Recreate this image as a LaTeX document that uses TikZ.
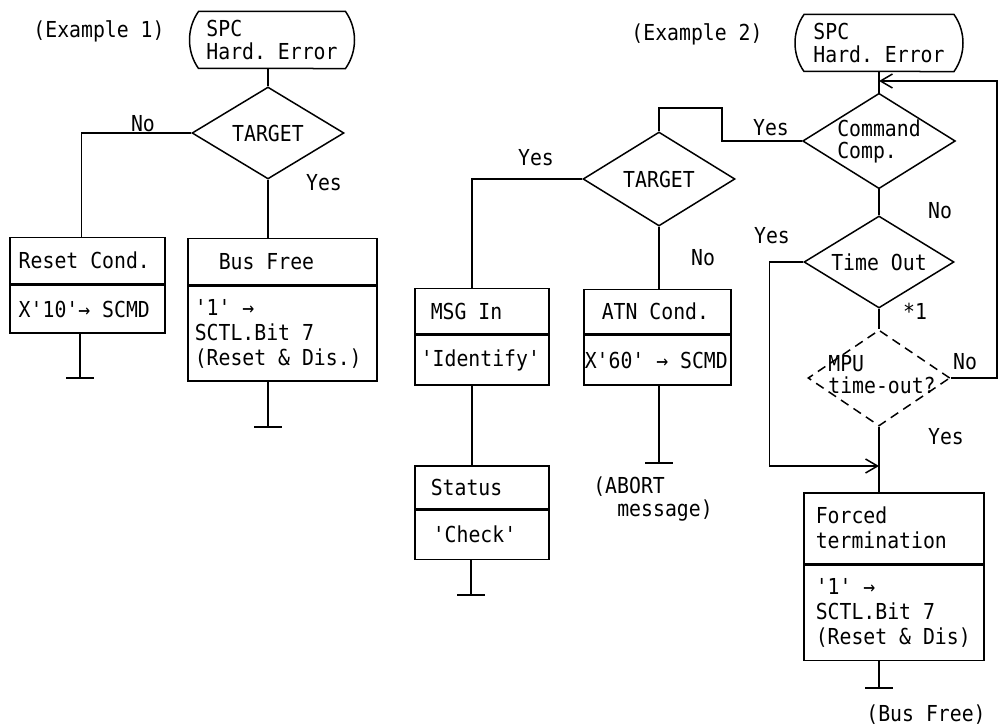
\documentclass[tikz,border=0pt]{standalone}
\usepackage{fontspec}
\setmonofont[FakeStretch=0.9]{DejaVu Sans Mono}
\usetikzlibrary{calc,shapes.geometric,shapes.misc,arrows.meta}
\def\groundbar(#1)(#2){\draw (#1) -- (#2); \draw ($(#2)+(-14,0)$) -- ($(#2)+(14,0)$);}

\tikzset{
	term/.style={draw, rounded rectangle, rounded rectangle arc length=70, minimum height=57pt, inner sep=0pt, align=left},
	decide/.style={draw, diamond, aspect=1.6, inner sep=0pt, align=left},
	proc/.style={draw, anchor=north west, align=left, inner ysep=0pt},
	joinarrow/.style={-{Straight Barb[length=12pt,width=14pt]}}
}

\begin{document}
\begin{tikzpicture}[x=1pt, y=-1pt, line width=1.5pt, font=\ttfamily\fontsize{22}{25}\selectfont,
		execute at begin node={\spaceskip=0pt\xspaceskip=0pt}]
	%%%%% START %%%%%
	\useasboundingbox (0,0) rectangle (1002,727);

	% Example 1
	\node (ex1) at (99,31) {(Example 1)};
	\node[term, minimum width=165pt] (spc1) at (272,40) {SPC\\[-2pt]Hard. Error};
	\node[decide, minimum width=152pt, minimum height=92pt] (tgt1) at (268,133) {TARGET};
	\node (no1) at (143,124) {No};
	\node (yes1) at (324,183) {Yes};

	\node[proc, text width=137pt, inner xsep=9pt, minimum height=46pt] (rst) at (9,237) {Reset Cond.};
	\node[proc, text width=137pt, inner xsep=9pt, minimum height=48pt] (rstb) at (rst.south west) {X'10'→ SCMD};

	\node[proc, text width=127pt, inner xsep=31pt, minimum height=46pt] (bus) at (187,238) {Bus Free};
	\node[proc, text width=175pt, inner xsep=7pt, minimum height=95pt] (busb) at (bus.south west) {'1' →\\SCTL.Bit 7\\(Reset \& Dis.)};

	\draw (tgt1.north |- spc1.south) -- (tgt1.north);
	\draw (tgt1.west) -| ([xshift=-6pt]rst.north);
	\draw (tgt1.south) -- (tgt1.south |- bus.north);

	\coordinate (gnd1) at (80,378);
	\coordinate (gnd2) at (268,427);
	\groundbar(rstb.south -| gnd1)(gnd1)
	\groundbar(busb.south -| gnd2)(gnd2)

	% Example 2
	\node (ex2) at (697,34) {(Example 2)};
	\node[term, minimum width=168pt] (spc2) at (879,43) {SPC\\[-2pt]Hard. Error};
	\node[decide, minimum width=150pt, minimum height=94pt] (cmd) at (879,141) {Command\\[-3pt]Comp.};
	\node[decide, minimum width=152pt, minimum height=94pt] (tgt2) at (659,179) {TARGET};
	\node[decide, minimum width=150pt, minimum height=92pt] (tmo) at (879,262) {Time Out};
	\node[decide, dash pattern=on 9pt off 6pt, minimum width=142pt, minimum height=96pt] (mpu) at (879,378) {};
	\node[align=left] (mputxt) at (882,375) {MPU\\[-3pt]time-out?};

	\node (yes2) at (771,128) {Yes};
	\node (yes3) at (536,158) {Yes};
	\node (no2) at (703,258) {No};
	\node (no3) at (940,211) {No};
	\node (yes4) at (772,236) {Yes};
	\node (star1) at (915,311) {*1};
	\node (no4) at (965,362) {No};
	\node (yes5) at (946,437) {Yes};

	\node[proc, text width=102pt, inner xsep=16pt, minimum height=45pt] (msg) at (414,288) {MSG In};
	\node[proc, text width=122pt, inner xsep=6pt, minimum height=50pt] (msgb) at (msg.south west) {'Identify'};

	\node[proc, text width=102pt, inner xsep=16pt, minimum height=43pt] (sts) at (414,465) {Status};
	\node[proc, text width=98pt, inner xsep=18pt, minimum height=49pt] (stsb) at (sts.south west) {'Check'};

	\node[proc, text width=111pt, inner xsep=18pt, minimum height=44pt] (atn) at (583,289) {ATN Cond.};
	\node[proc, text width=147pt, inner xsep=0pt, minimum height=50pt] (atnb) at (atn.south west) {\hspace*{1pt}X'60' → SCMD};
	\node[align=left] (abort) at (653,499) {(ABORT\\[-2pt]\hspace*{24pt}message)};

	\node[proc, text width=156pt, inner xsep=12pt, minimum height=71pt] (frc) at (803,492) {Forced\\termination};
	\node[proc, text width=156pt, inner xsep=12pt, minimum height=95pt] (frcb) at (frc.south west) {'1' →\\SCTL.Bit 7\\(Reset \& Dis)};
	\node (busfree) at (926,715) {(Bus Free)};

	\coordinate (back) at (879,81);
	\coordinate (merge) at (879,466);
	\draw (spc2.south) -- (cmd.north);
	\draw (cmd.west) -| ++(-80,-33) -| (tgt2.north);
	\draw (tgt2.west) -| ([xshift=-10pt]msg.north);
	\draw (tgt2.south) -- (tgt2.south |- atn.north);
	\draw ([xshift=-10pt]msgb.south) -- ([xshift=-10pt]sts.north);
	\draw (cmd.south) -- (tmo.north);
	\draw (tmo.south) -- (mpu.north);
	\draw[joinarrow] (tmo.west) -- ++(-34,0) |- (merge);
	\draw[joinarrow] (mpu.east) -- ++(46,0) |- (back);
	\draw (mpu.south) -- (mpu.south |- frc.north);

	\coordinate (gnd3) at (471,595);
	\coordinate (gnd4) at (659,463);
	\coordinate (gnd5) at (879,688);
	\groundbar(stsb.south -| gnd3)(gnd3)
	\groundbar(atnb.south -| gnd4)(gnd4)
	\groundbar(frcb.south -| gnd5)(gnd5)
	%%%%% END %%%%%
\end{tikzpicture}
\end{document}
